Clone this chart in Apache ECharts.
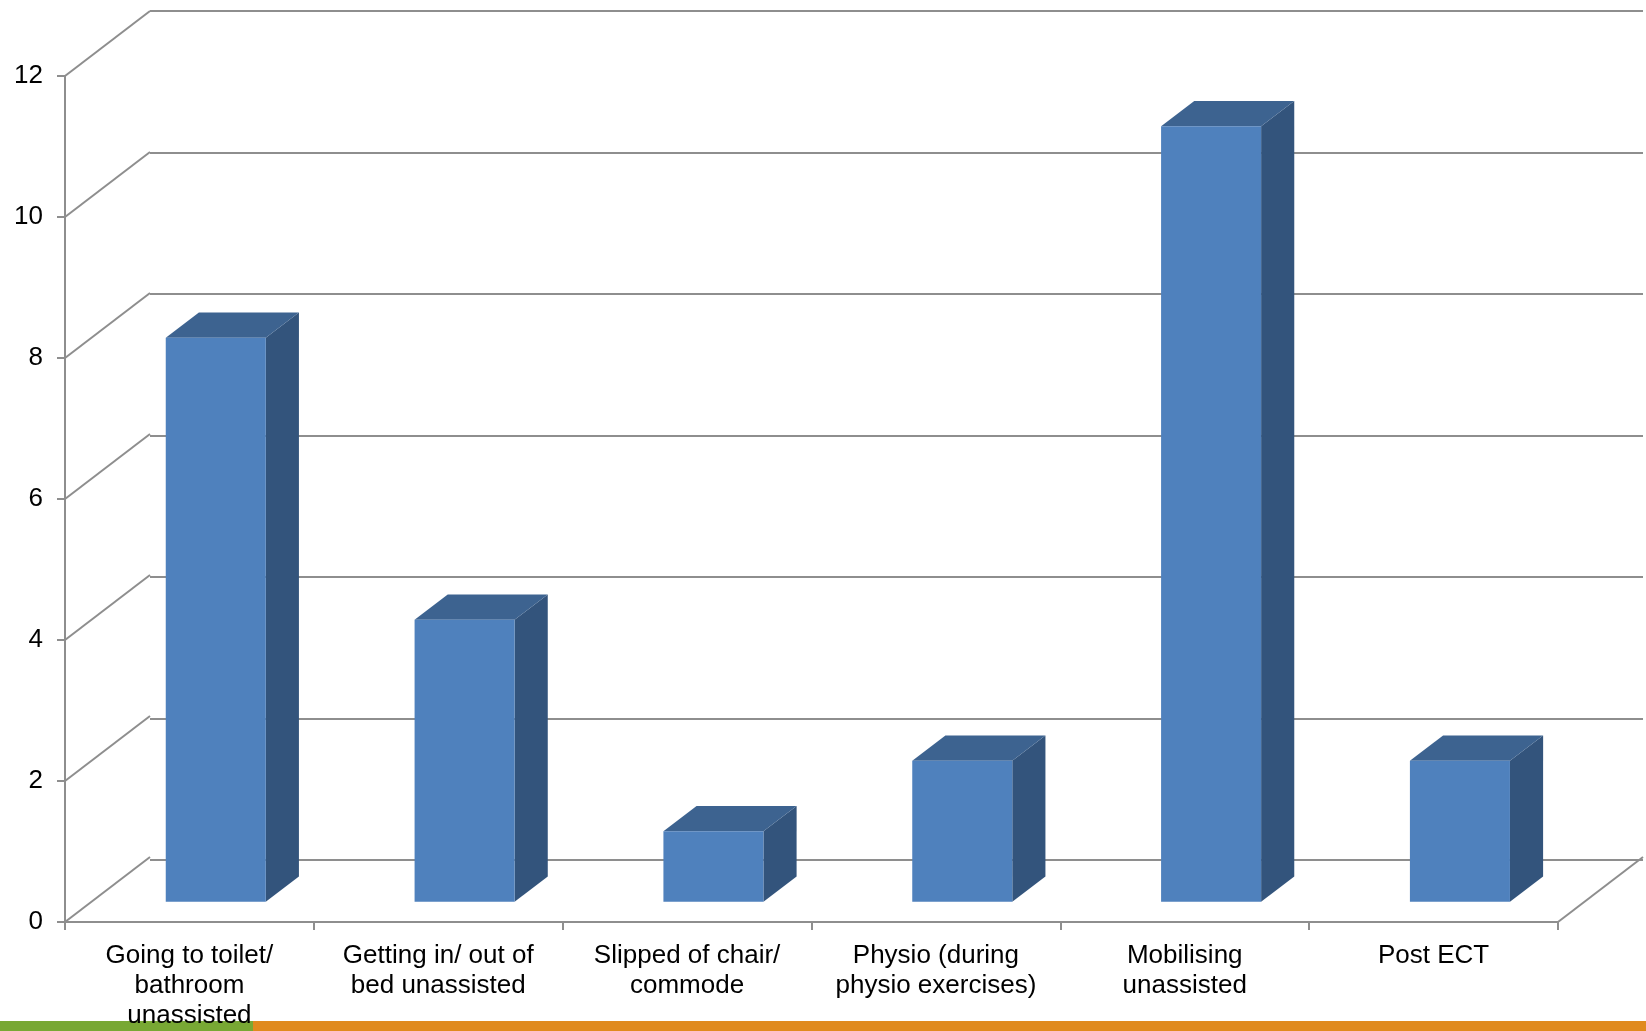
<!DOCTYPE html>
<html>
<head>
<meta charset="utf-8">
<style>
  html, body { margin: 0; padding: 0; background: #ffffff; }
  #chart { width: 1646px; height: 1031px; }
</style>
<script src="https://cdn.jsdelivr.net/npm/echarts@6/dist/echarts.min.js"></script>
</head>
<body>
<div id="chart"></div>
<script>
// Fall causes (counts)
const categories = [
  'Going to toilet/\nbathroom\nunassisted',
  'Getting in/ out of\nbed unassisted',
  'Slipped of chair/\ncommode',
  'Physio (during\nphysio exercises)',
  'Mobilising\nunassisted',
  'Post ECT'
];
const counts = [8, 4, 1, 2, 11, 2];
const yTicks = [0, 2, 4, 6, 8, 10, 12];
const yMin = 0, yMax = 12, yStep = 2;

// depth of the pseudo-3D box, in pixels
const DX = 85, DY = 65;
const FRONT = 0.31, BACK = 0.70, BAR_W = 0.402;
const GRID_COLOR = '#8e8e8e';
const FONT = '"Liberation Sans", Arial, sans-serif';

const chart = echarts.init(document.getElementById('chart'), null, { renderer: 'canvas' });

function wallLines(params, api) {
  const v = api.value(0);
  const cs = params.coordSys;
  const y = api.coord([0, v])[1];
  const children = [{
    type: 'line',
    shape: { x1: cs.x, y1: y, x2: cs.x + DX, y2: y - DY },
    style: { stroke: GRID_COLOR, lineWidth: 2 }
  }];
  if (v === yMin) {
    const xr = cs.x + cs.width;
    children.push({
      type: 'line',
      shape: { x1: xr, y1: y, x2: xr + DX, y2: y - DY },
      style: { stroke: GRID_COLOR, lineWidth: 2 }
    });
  }
  return { type: 'group', children };
}

function bar3d(params, api) {
  const i = api.value(0), v = api.value(1);
  const base = api.coord([i, 0]);
  const top = api.coord([i, v]);
  const band = api.size([1, 0])[0];
  const w = band * BAR_W;
  const x0 = base[0] - w / 2 + DX * FRONT;
  const x1 = x0 + w;
  const yb = base[1] - DY * FRONT;
  const yt = top[1] - DY * FRONT;
  const ddx = DX * (BACK - FRONT), ddy = DY * (BACK - FRONT);
  return {
    type: 'group',
    children: [
      { type: 'polygon', shape: { points: [[x1, yt], [x1 + ddx, yt - ddy], [x1 + ddx, yb - ddy], [x1, yb]] },
        style: { fill: '#33547C' } },
      { type: 'polygon', shape: { points: [[x0, yt], [x1, yt], [x1 + ddx, yt - ddy], [x0 + ddx, yt - ddy]] },
        style: { fill: '#3D6390' } },
      { type: 'rect', shape: { x: x0, y: yt, width: w, height: yb - yt },
        style: { fill: '#4F81BD' } }
    ]
  };
}

chart.setOption({
  animation: false,
  backgroundColor: '#ffffff',
  grid: [
    { left: 65, top: 76, width: 1493, height: 849 },          // front plane
    { left: 65 + DX, top: 76 - DY, width: 1493, height: 849 }  // back wall
  ],
  xAxis: [
    {
      type: 'category', gridIndex: 0, data: categories,
      axisLine: { lineStyle: { color: GRID_COLOR, width: 2 } },
      axisTick: { show: true, length: 8, lineStyle: { color: GRID_COLOR, width: 2 } },
      axisLabel: { interval: 0, margin: 19, color: '#000', fontSize: 26, lineHeight: 30, fontFamily: FONT },
      splitLine: { show: false },
      z: 10
    },
    {
      type: 'category', gridIndex: 1, data: categories,
      show: false
    }
  ],
  yAxis: [
    {
      type: 'value', gridIndex: 0, min: yMin, max: yMax, interval: yStep,
      axisLine: { show: true, lineStyle: { color: GRID_COLOR, width: 2 } },
      axisTick: { show: true, length: 8, lineStyle: { color: GRID_COLOR, width: 2 } },
      axisLabel: { margin: 22, color: '#000', fontSize: 26, fontFamily: FONT },
      splitLine: { show: false }
    },
    {
      type: 'value', gridIndex: 1, min: yMin, max: yMax, interval: yStep,
      axisLine: { show: false }, axisTick: { show: false }, axisLabel: { show: false },
      splitLine: { show: true, lineStyle: { color: GRID_COLOR, width: 2 } }
    }
  ],
  series: [
    {
      type: 'custom', xAxisIndex: 0, yAxisIndex: 0,
      renderItem: wallLines,
      data: yTicks.map(t => [t]),
      encode: { y: 0 },
      silent: true, z: 1
    },
    {
      type: 'custom', xAxisIndex: 0, yAxisIndex: 0,
      renderItem: bar3d,
      data: counts.map((v, i) => [i, v]),
      encode: { x: 0, y: 1 },
      z: 5
    }
  ],
  graphic: [
    { type: 'rect', z: -5, shape: { x: 0, y: 1021, width: 253, height: 10 }, style: { fill: '#78A834' } },
    { type: 'rect', z: -5, shape: { x: 253, y: 1021, width: 1393, height: 10 }, style: { fill: '#E08A1E' } }
  ]
});
</script>
</body>
</html>
